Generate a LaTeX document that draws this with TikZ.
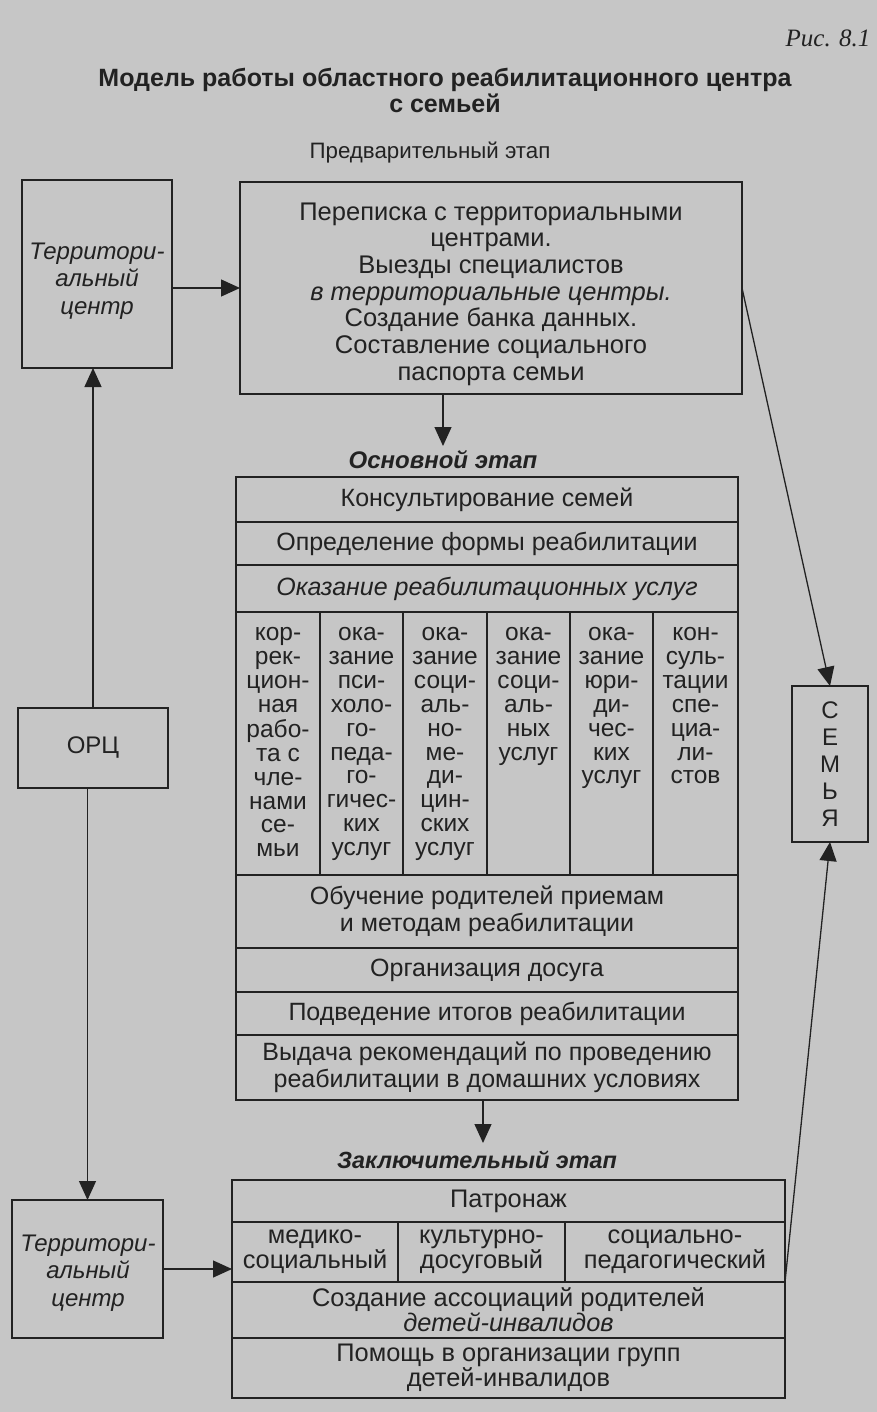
\documentclass[tikz,border=0pt]{standalone}
\usepackage{fontspec}
\setmainfont{Liberation Sans}
\newfontfamily\rsf{Liberation Serif}
\usetikzlibrary{arrows.meta}
\definecolor{bg}{RGB}{198,198,198}
\definecolor{ink}{RGB}{34,34,34}
\newcommand\fsP{\fontsize{25.5}{26.7}\selectfont}
\newcommand\fsA{\fontsize{25}{26.5}\selectfont}
\newcommand\fsB{\fontsize{25.4}{23}\selectfont}
\newcommand\fsC{\fontsize{24.5}{23.9}\selectfont}
\newcommand\fsL{\fontsize{24}{27.5}\selectfont}
\begin{document}
\begin{tikzpicture}[x=1pt,y=-1pt,
  box/.style={draw=ink, line width=1.7pt, rectangle, inner sep=0pt, outer sep=0pt,
    anchor=north west, align=center, text=ink, font=\fsA},
  plain/.style={inner sep=0pt, outer sep=0pt, text=ink, align=center},
  arr/.style={draw=ink, line width=1.3pt, -{Triangle[length=19pt,width=17pt]}},
  coltext/.style={plain, anchor=base, font=\fsC}
]
\fill[bg] (0,0) rectangle (877,1412);
\useasboundingbox (0,0) rectangle (877,1412);

% headings
\node[plain, font=\rsf\itshape\fontsize{25}{26}\selectfont] (fig) at (828,38) {Рис. 8.1};
\node[plain, font=\bfseries\fontsize{25}{26}\selectfont] (title) at (445,90)
  {Модель работы областного реабилитационного центра\\с семьей};
\node[plain, font=\fontsize{22.3}{24}\selectfont] (pre) at (430,153) {Предварительный этап};

% left boxes
\node[box, minimum width=150, minimum height=188] (tc1) at (22,180) {};
\node[plain, font=\itshape\fsL] (tc1t) at (97,281) {Территори-\\альный\\центр};
\node[box, font=\fontsize{24}{26}\selectfont, minimum width=150, minimum height=80] (orc) at (18,708) {ОРЦ};
\node[box, minimum width=151, minimum height=138] (tc2) at (12,1200) {};
\node[plain, font=\itshape\fsL] (tc2t) at (88,1273) {Территори-\\альный\\центр};

% family box
\node[box, font=\fontsize{24}{27}\selectfont, minimum width=76, minimum height=156] (sem) at (792,686)
  {С\\Е\\М\\Ь\\Я};

% preliminary box
\node[box, minimum width=502, minimum height=212] (prel) at (240,182) {};
\node[plain, font=\fsP] (prelt) at (491,294)
  {Переписка с территориальными\\центрами.\\Выезды специалистов\\\textit{в территориальные центры.}\\Создание банка данных.\\Составление социального\\паспорта семьи};

% main stage
\node[plain, font=\bfseries\itshape\fontsize{24}{26}\selectfont] (osn) at (443,460) {Основной этап};
\node[box, minimum width=502, minimum height=45] (r1) at (236,477) {Консультирование семей};
\node[box, minimum width=502, minimum height=43] (r2) at (236,522) {Определение формы реабилитации};
\node[box, minimum width=502, minimum height=47] (r3) at (236,565) {\itshape Оказание реабилитационных услуг};

\node[box, minimum width=84, minimum height=263] (c1) at (236,612) {};
\node[box, minimum width=83, minimum height=263] (c2) at (320,612) {};
\node[box, minimum width=84, minimum height=263] (c3) at (403,612) {};
\node[box, minimum width=83, minimum height=263] (c4) at (487,612) {};
\node[box, minimum width=83, minimum height=263] (c5) at (570,612) {};
\node[box, minimum width=85, minimum height=263] (c6) at (653,612) {};

\node[coltext] (t1) at (278,640.5) {\begin{tabular}[t]{@{}c@{}}кор-\\рек-\\цион-\\ная\\рабо-\\та с\\чле-\\нами\\се-\\мьи\end{tabular}};
\node[coltext] (t2) at (361.5,640.5) {\begin{tabular}[t]{@{}c@{}}ока-\\зание\\пси-\\холо-\\го-\\педа-\\го-\\гичес-\\ких\\услуг\end{tabular}};
\node[coltext] (t3) at (445,640.5) {\begin{tabular}[t]{@{}c@{}}ока-\\зание\\соци-\\аль-\\но-\\ме-\\ди-\\цин-\\ских\\услуг\end{tabular}};
\node[coltext] (t4) at (528.5,640.5) {\begin{tabular}[t]{@{}c@{}}ока-\\зание\\соци-\\аль-\\ных\\услуг\end{tabular}};
\node[coltext] (t5) at (611.5,640.5) {\begin{tabular}[t]{@{}c@{}}ока-\\зание\\юри-\\ди-\\чес-\\ких\\услуг\end{tabular}};
\node[coltext] (t6) at (695.5,640.5) {\begin{tabular}[t]{@{}c@{}}кон-\\суль-\\тации\\спе-\\циа-\\ли-\\стов\end{tabular}};

\node[box, minimum width=502, minimum height=73] (r4) at (236,875) {Обучение родителей приемам\\и методам реабилитации};
\node[box, minimum width=502, minimum height=44] (r5) at (236,948) {Организация досуга};
\node[box, minimum width=502, minimum height=43] (r6) at (236,992) {Подведение итогов реабилитации};
\node[box, minimum width=502, minimum height=65] (r7) at (236,1035) {Выдача рекомендаций по проведению\\реабилитации в домашних условиях};

% final stage
\node[plain, font=\bfseries\itshape\fontsize{23.4}{26}\selectfont] (zak) at (477,1160) {Заключительный этап};
\node[box, font=\fsB, minimum width=553, minimum height=42] (f1) at (232,1180) {Патронаж};
\node[box, font=\fsB, minimum width=166, minimum height=60] (f2a) at (232,1222) {медико-\\социальный};
\node[box, font=\fsB, minimum width=167, minimum height=60] (f2b) at (398,1222) {культурно-\\досуговый};
\node[box, font=\fsB, minimum width=220, minimum height=60] (f2c) at (565,1222) {социально-\\педагогический};
\node[box, font=\fsB, minimum width=553, minimum height=56] (f3) at (232,1282) {Создание ассоциаций родителей\\\textit{детей-инвалидов}};
\node[box, font=\fsB, minimum width=553, minimum height=60] (f4) at (232,1338) {Помощь в организации групп\\детей-инвалидов};

% connectors
\coordinate (a1) at (443,446);
\coordinate (a2) at (483,1143);
\draw[arr] (tc1.east |- prel.west) -- (prel.west);
\draw[arr] (prel.south -| a1) -- (a1);
\draw[arr] (r7.south -| a2) -- (a2);
\draw[arr] (orc.north) -- (orc.north |- tc1.south);
\draw[arr] (orc.south -| tc2.north) -- (tc2.north);
\draw[arr] (tc2.east) -- (tc2.east -| f2a.west);
\draw[arr] (prel.east) -- (sem.north);
\draw[arr] (f2c.south east) -- (sem.south);
\end{tikzpicture}
\end{document}
